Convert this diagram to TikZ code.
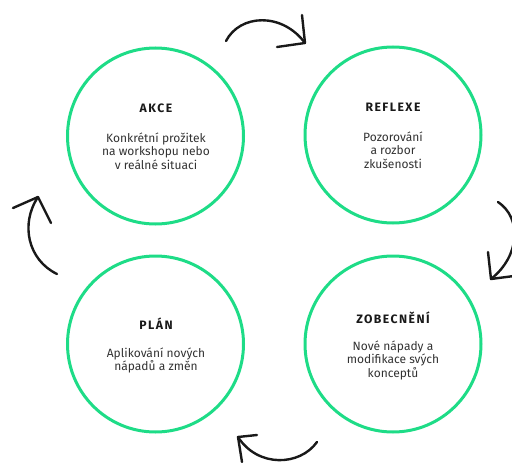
\documentclass[tikz,border=0pt]{standalone}
\usepackage{fontspec}
\setmainfont{Fira Sans}
\definecolor{ringgreen}{RGB}{30,220,135}
\definecolor{titlecol}{RGB}{25,25,25}
\definecolor{bodycol}{RGB}{50,50,50}
\begin{document}
\begin{tikzpicture}[x=1pt,y=-1pt,
  ring/.style={circle,draw=ringgreen,line width=3pt,minimum size=176pt,inner sep=0pt},
  ttl/.style={font=\fontsize{12.2}{13}\selectfont\bfseries\addfontfeature{LetterSpace=12},text=titlecol,anchor=center},
  body/.style={font=\fontsize{12}{13.8}\selectfont,text=bodycol,align=center,anchor=north},
  cyc/.style={line width=2.4pt,line cap=round,line join=round,black!90}]
\useasboundingbox (0,0) rectangle (512,463);
\node[ring] (akce) at (155.5,136) {};
\node[ring] (refl) at (393,135) {};
\node[ring] (plan) at (155.5,344) {};
\node[ring] (zob) at (393,344) {};
\node[ttl] (t1) at (156,108) {AKCE};
\node[body] (b1) at (156,129) {Konkrétní prožitek\\na workshopu nebo\\v reálné situaci};
\node[ttl] (t2) at (393,107) {REFLEXE};
\node[body] (b2) at (393,128) {Pozorování\\a rozbor\\zkušenosti};
\node[ttl] (t3) at (156,324) {PLÁN};
\node[body] (b3) at (156,344) {Aplikování nových\\nápadů a změn};
\node[ttl] (t4) at (393,318) {ZOBECNĚNÍ};
\node[body] (b4) at (393,337) {Nové nápady a\\modifikace svých\\konceptů};
% top arrow
\coordinate (a1s) at (226,41); \coordinate (a1t) at (305,43);
\coordinate (a1h1) at (302,15); \coordinate (a1h2) at (277,47);
\draw[cyc] (a1s) .. controls (240,14) and (282,12) .. (a1t);
\draw[cyc] (a1h1) -- (a1t) -- (a1h2);
% right arrow
\coordinate (a2s) at (498,202); \coordinate (a2t) at (491,279);
\coordinate (a2h1) at (488,252); \coordinate (a2h2) at (514,276);
\draw[cyc] (a2s) .. controls (522,218) and (520,256) .. (a2t);
\draw[cyc] (a2h1) -- (a2t) -- (a2h2);
% bottom arrow
\coordinate (a3s) at (317,442); \coordinate (a3t) at (238,437);
\coordinate (a3h1) at (257,435); \coordinate (a3h2) at (242,462);
\draw[cyc] (a3s) .. controls (300,466) and (258,468) .. (a3t);
\draw[cyc] (a3h1) -- (a3t) -- (a3h2);
% left arrow
\coordinate (a4s) at (57,274); \coordinate (a4t) at (38,197);
\coordinate (a4h1) at (13,208); \coordinate (a4h2) at (51,223);
\draw[cyc] (a4s) .. controls (28,260) and (20,224) .. (a4t);
\draw[cyc] (a4h1) -- (a4t) -- (a4h2);
\end{tikzpicture}
\end{document}
